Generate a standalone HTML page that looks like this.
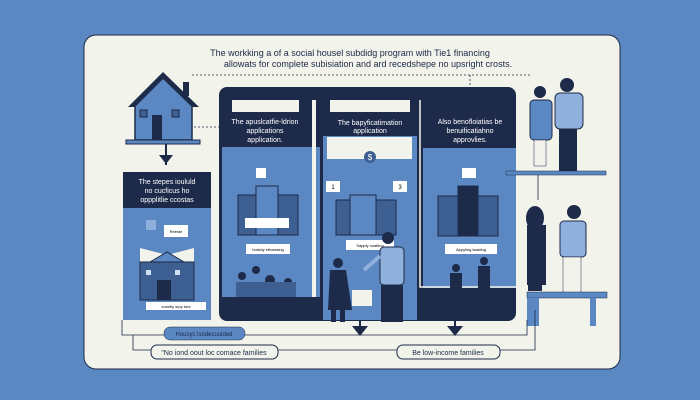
<!DOCTYPE html>
<html><head><meta charset="utf-8"><style>
html,body{margin:0;padding:0;background:#5b88c2;}
svg{display:block}
text{font-family:"Liberation Sans",sans-serif;}
</style></head><body>
<svg width="700" height="400" viewBox="0 0 700 400" xmlns="http://www.w3.org/2000/svg">
<rect width="700" height="400" fill="#5b88c2"/>
<rect x="84" y="35" width="536" height="334" rx="12" fill="#f2f3ea" stroke="#1d2a4a" stroke-width="1"/>
<text x="350" y="56" font-size="9" text-anchor="middle" fill="#1c2747">The workking  a of a social housel subdidg program   with Tie1 financing</text>
<text x="368" y="67" font-size="9" text-anchor="middle" fill="#1c2747">allowats for complete subisiation and ard recedshepe no upsright crosts.</text>
<!-- dashed top connectors -->
<path d="M192 75 H530 M470 75 V85 M194 127 H219" stroke="#1d2a4a" stroke-width="0.8" stroke-dasharray="2 2" fill="none"/>
<!-- house -->
<polygon points="128,107 163,72 199,107" fill="#1d2a4a"/>
<rect x="183" y="82" width="6" height="14" fill="#1d2a4a"/>
<polygon points="135,106 163,78 192,106 192,140 135,140" fill="#5b88c2" stroke="#1d2a4a" stroke-width="1.5"/>
<rect x="152" y="115" width="10" height="25" fill="#1d2a4a"/>
<rect x="140" y="110" width="7" height="7" fill="#3d5f91" stroke="#1d2a4a"/>
<rect x="172" y="110" width="7" height="7" fill="#3d5f91" stroke="#1d2a4a"/>
<rect x="126" y="140" width="74" height="4" fill="#5b88c2" stroke="#1d2a4a"/>
<path d="M166 144 V165" stroke="#1d2a4a" stroke-width="2"/>
<polygon points="159,155 173,155 166,164" fill="#1d2a4a"/>
<!-- left panel -->
<rect x="123" y="172" width="88" height="148" fill="#5b88c2"/>
<rect x="123" y="172" width="88" height="36" fill="#1d2a4a"/>
<text x="167" y="184" font-size="7" fill="#fff" text-anchor="middle">The stepes  ioululd</text>
<text x="167" y="193" font-size="7" fill="#fff" text-anchor="middle">no cucficus ho</text>
<text x="167" y="202" font-size="7" fill="#fff" text-anchor="middle">oppplitlie ccostas</text>
<rect x="164" y="225" width="24" height="12" fill="#fff"/><text x="176" y="233" font-size="4" text-anchor="middle">Reeste</text>
<rect x="146" y="220" width="10" height="10" fill="#8fb0dd"/>
<polygon points="140,248 167,255 194,248 194,262 140,262" fill="#f2f3ea"/>
<rect x="140" y="262" width="54" height="38" fill="#3d5f91" stroke="#1d2a4a"/>
<polygon points="150,262 167,252 184,262" fill="#5b88c2" stroke="#1d2a4a"/>
<rect x="157" y="280" width="14" height="20" fill="#1d2a4a"/>
<rect x="146" y="270" width="5" height="5" fill="#cfe0f2"/><rect x="175" y="270" width="5" height="5" fill="#cfe0f2"/>
<rect x="146" y="302" width="60" height="8" fill="#fff"/><text x="176" y="308" font-size="4" text-anchor="middle">curnitly srpy tors</text>
<!-- big dark frame -->
<rect x="219" y="87" width="297" height="234" rx="8" fill="#1d2a4a"/>
<rect x="222" y="147" width="98" height="150" fill="#5b88c2"/>
<rect x="232" y="100" width="67" height="12" fill="#f2f3ea"/>
<text x="265" y="124" font-size="7" fill="#fff" text-anchor="middle">The apuslcatfie-ldrion</text>
<text x="265" y="133" font-size="7" fill="#fff" text-anchor="middle">applications</text>
<text x="265" y="142" font-size="7" fill="#fff" text-anchor="middle">application.</text>
<rect x="312" y="100" width="4" height="197" fill="#f2f3ea"/>
<rect x="323" y="112" width="94" height="208" fill="#5b88c2"/>
<rect x="323" y="112" width="94" height="24" fill="#1d2a4a"/>
<rect x="330" y="100" width="80" height="12" fill="#f2f3ea"/>
<text x="370" y="125" font-size="7" fill="#fff" text-anchor="middle">The  bapyficatimation</text>
<text x="370" y="133" font-size="7" fill="#fff" text-anchor="middle">application</text>
<rect x="327" y="137" width="85" height="22" fill="#f2f3ea"/>
<circle cx="370" cy="157" r="6" fill="#3d5f91"/><text x="370" y="160" font-size="8" fill="#fff" text-anchor="middle">$</text>
<rect x="326" y="181" width="14" height="11" fill="#fff"/><text x="333" y="189" font-size="6" text-anchor="middle">1</text>
<rect x="393" y="181" width="14" height="11" fill="#fff"/><text x="400" y="189" font-size="6" text-anchor="middle">3</text>
<rect x="423" y="112" width="93" height="176" fill="#5b88c2"/>
<rect x="423" y="112" width="93" height="36" fill="#1d2a4a"/>
<text x="470" y="124" font-size="7" fill="#fff" text-anchor="middle">Also benofloiatias be</text>
<text x="470" y="133" font-size="7" fill="#fff" text-anchor="middle">benuificatiahno</text>
<text x="470" y="142" font-size="7" fill="#fff" text-anchor="middle">approvlies.</text>
<path d="M420 100 V287 H516" stroke="#f2f3ea" stroke-width="1.5" fill="none"/>
<!-- buildings -->
<g fill="#3d5f91" stroke="#1d2a4a" stroke-width="1">
<rect x="238" y="195" width="60" height="40"/><rect x="256" y="186" width="22" height="49" fill="#5b88c2"/>
<rect x="336" y="200" width="60" height="35"/><rect x="350" y="195" width="26" height="40" fill="#5b88c2"/>
<rect x="438" y="196" width="60" height="40"/><rect x="458" y="186" width="20" height="50" fill="#1d2a4a"/>
</g>
<rect x="256" y="168" width="10" height="10" fill="#fff"/>
<rect x="245" y="218" width="44" height=" 10" fill="#fff"/>
<rect x="246" y="244" width="44" height="10" fill="#fff"/><text x="268" y="251" font-size="4" text-anchor="middle">holsbly eficeasing</text>
<rect x="346" y="240" width="48" height="10" fill="#fff"/><text x="370" y="247" font-size="4" text-anchor="middle">Sapply noaiting</text>
<rect x="445" y="244" width="52" height="10" fill="#fff"/><text x="471" y="251" font-size="4" text-anchor="middle">Appyling lsasting</text>
<rect x="462" y="168" width="14" height="10" fill="#fff"/>
<!-- small people -->
<g fill="#1d2a4a"><circle cx="242" cy="276" r="4"/><circle cx="256" cy="270" r="4"/><circle cx="270" cy="280" r="5"/><circle cx="288" cy="282" r="4"/>
<rect x="236" y="282" width="60" height="15" fill="#3d5f91"/>
<circle cx="456" cy="268" r="4"/><circle cx="484" cy="261" r="4"/><rect x="450" y="273" width="12" height="25"/><rect x="478" y="266" width="12" height="32"/>
</g>
<!-- central people -->
<rect x="352" y="290" width="20" height="16" fill="#f2f3ea"/>
<circle cx="338" cy="263" r="5" fill="#1d2a4a"/>
<polygon points="330,270 346,270 352,310 328,310" fill="#1d2a4a"/>
<rect x="331" y="310" width="5" height="12" fill="#1d2a4a"/><rect x="340" y="310" width="5" height="12" fill="#1d2a4a"/>
<circle cx="388" cy="238" r="6" fill="#1d2a4a"/>
<rect x="380" y="247" width="24" height="38" rx="4" fill="#8fb0dd" stroke="#1d2a4a"/>
<rect x="381" y="285" width="22" height="37" fill="#1d2a4a"/>
<path d="M380 256 L364 270" stroke="#8fb0dd" stroke-width="4"/>
<!-- right people -->
<circle cx="540" cy="92" r="6" fill="#1d2a4a"/><rect x="530" y="100" width="22" height="40" rx="4" fill="#5b88c2" stroke="#1d2a4a"/>
<rect x="534" y="140" width="12" height="26" fill="#f2f3ea" stroke="#1d2a4a" stroke-width="0.5"/>
<circle cx="567" cy="85" r="7" fill="#1d2a4a"/><rect x="555" y="93" width="28" height="36" rx="5" fill="#8fb0dd" stroke="#1d2a4a"/>
<rect x="559" y="129" width="18" height="42" fill="#1d2a4a"/>
<rect x="506" y="171" width="100" height="4" fill="#5b88c2" stroke="#1d2a4a" stroke-width="0.5"/>
<path d="M538 175 V200" stroke="#1d2a4a" stroke-width="0.8"/>
<ellipse cx="535" cy="218" rx="9" ry="12" fill="#1d2a4a"/>
<polygon points="527,225 546,225 546,285 527,285" fill="#1d2a4a"/>
<rect x="528" y="285" width="14" height="6" fill="#1d2a4a"/>
<circle cx="574" cy="212" r="7" fill="#1d2a4a"/><rect x="560" y="221" width="26" height="36" rx="4" fill="#8fb0dd" stroke="#1d2a4a"/>
<rect x="563" y="257" width="18" height="38" fill="#f2f3ea" stroke="#1d2a4a" stroke-width="0.5"/>
<rect x="527" y="292" width="80" height="6" fill="#5b88c2" stroke="#1d2a4a" stroke-width="0.5"/>
<rect x="527" y="298" width="12" height="28" fill="#5b88c2"/><rect x="590" y="298" width="6" height="28" fill="#5b88c2"/>
<!-- bottom connectors -->
<path d="M122 320 V335 H527 V320 M133 335 V350 H160 M278 350 H397 M500 350 H535 V310" stroke="#1d2a4a" stroke-width="0.8" fill="none"/>
<path d="M360 321 V335 M455 321 V335" stroke="#1d2a4a" stroke-width="2"/>
<polygon points="352,326 368,326 360,336" fill="#1d2a4a"/>
<polygon points="447,326 463,326 455,336" fill="#1d2a4a"/>
<rect x="164" y="327" width="81" height="13" rx="6" fill="#5b88c2" stroke="#1d2a4a" stroke-width="0.5"/>
<text x="204" y="336" font-size="6" fill="#1d2a4a" text-anchor="middle">Housyc lsodecuulded</text>
<rect x="151" y="345" width="127" height="14" rx="6" fill="#f2f3ea" stroke="#1d2a4a"/>
<text x="214" y="355" font-size="7" fill="#1d2a4a" text-anchor="middle">"No iond oout loc comace families</text>
<rect x="397" y="345" width="103" height="14" rx="6" fill="#f2f3ea" stroke="#1d2a4a"/>
<text x="448" y="355" font-size="7" fill="#1d2a4a" text-anchor="middle">Be low-income families</text>
</svg>
</body></html>
